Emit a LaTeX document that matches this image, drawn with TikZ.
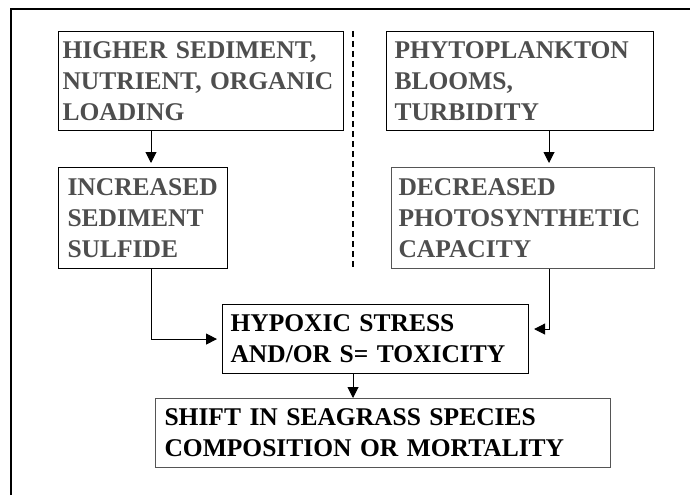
\documentclass[tikz,border=0pt]{standalone}
\usepackage{fontspec}
\setmainfont{Liberation Serif}
\usetikzlibrary{arrows.meta}
\definecolor{txtgray}{RGB}{78,78,78}
\definecolor{boxgray}{RGB}{85,85,85}
\hyphenpenalty=10000
\begin{document}
\begin{tikzpicture}[x=1pt,y=-1pt,
  box/.style={draw=black, line width=1.1pt, rectangle, anchor=north west,
    align=left, inner ysep=0pt,
    font=\fontsize{25.5}{31}\selectfont\bfseries},
  arr/.style={line width=1pt, -{Triangle[length=11pt,width=11pt]}},
  frame/.style={line width=2.2pt},
  divider/.style={line width=1.3pt, dash pattern=on 6pt off 4pt}
]
\fill[white] (0,0) rectangle (690,495);
\useasboundingbox (0,0) rectangle (690,495);

\draw[frame] (11,495) -- (11,9) -- (690,9);

\node[box, text=txtgray, inner xsep=4pt, text width=277pt, minimum height=99pt] (b1) at (58,31)
  {HIGHER SEDIMENT,\\NUTRIENT, ORGANIC\\LOADING};
\node[box, text=txtgray, inner xsep=9pt, text width=151pt, minimum height=101pt] (b2) at (58,167)
  {INCREASED\\SEDIMENT\\SULFIDE};
\node[box, text=txtgray, inner xsep=8pt, text width=251pt, minimum height=99pt] (b3) at (386,31)
  {PHYTOPLANKTON\\BLOOMS,\\TURBIDITY};
\node[box, draw=boxgray, text=txtgray, inner xsep=7pt, text width=249pt, minimum height=101pt] (b4) at (391,167)
  {DECREASED\\PHOTOSYNTHETIC\\CAPACITY};
\node[box, text=black, inner xsep=8pt, text width=290pt, minimum height=69pt] (b5) at (222,304)
  {HYPOXIC STRESS\\AND/OR S= TOXICITY};
\node[box, draw=boxgray, text=black, inner xsep=9pt, text width=437pt, minimum height=69pt] (b6) at (155,398)
  {SHIFT IN SEAGRASS SPECIES\\COMPOSITION OR MORTALITY};

\coordinate (xa) at (151,0);
\coordinate (xb) at (549,0);
\coordinate (xc) at (353,0);

\draw[divider] (xc |- b1.north) -- (xc |- b2.south);

\draw[arr, shorten >=4pt] (xa |- b1.south) -- (xa |- b2.north);
\draw[arr, shorten >=4pt] (xb |- b3.south) -- (xb |- b4.north);
\draw[arr] (xa |- b2.south) |- ([xshift=-5pt]b5.west);
\draw[arr] (xb |- b4.south) |- ([xshift=5pt,yshift=10pt]b5.east);
\draw[arr] (xc |- b5.south) -- (xc |- b6.north);
\end{tikzpicture}
\end{document}
